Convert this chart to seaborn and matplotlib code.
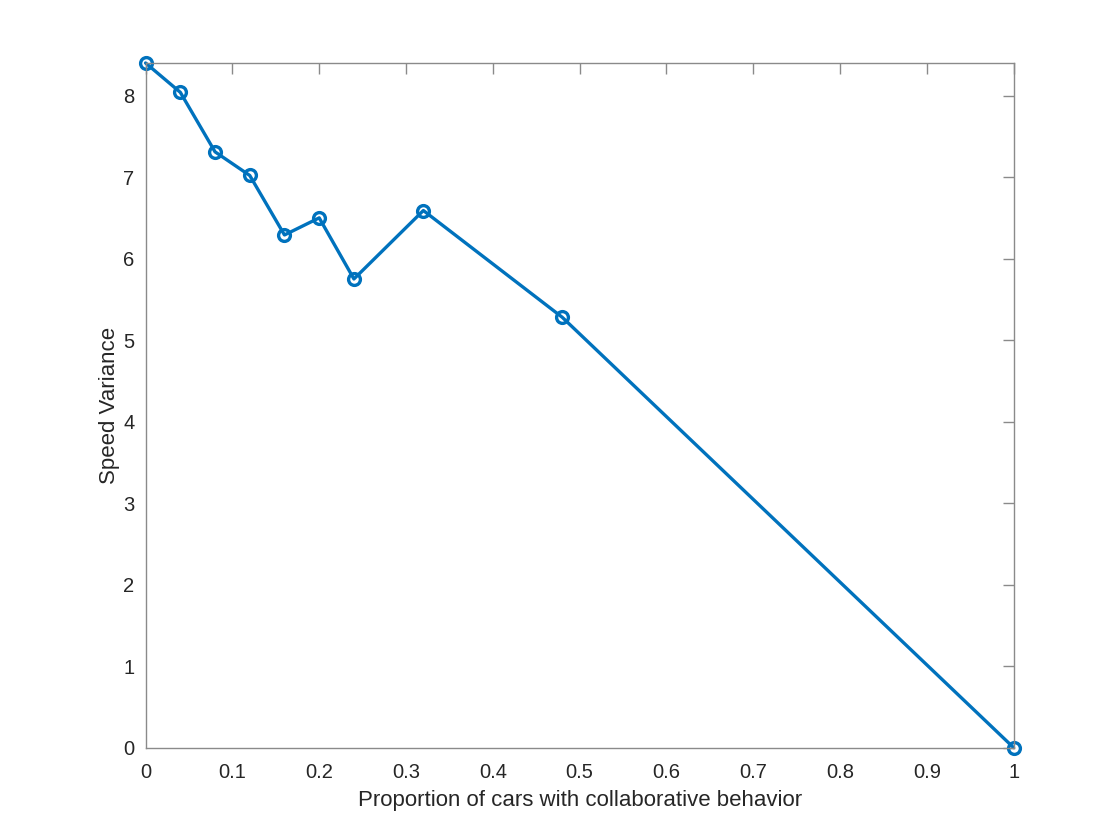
import matplotlib
matplotlib.use("Agg")
import matplotlib.pyplot as plt
import seaborn as sns
import pandas as pd

# proportion of collaborative cars vs speed variance
proportion = [0.0, 0.04, 0.08, 0.12, 0.16, 0.20, 0.24, 0.32, 0.48, 1.0]
speed_var = [8.40, 8.04, 7.31, 7.02, 6.29, 6.50, 5.75, 6.59, 5.28, 0.0]
x_ticks = [0, 0.1, 0.2, 0.3, 0.4, 0.5, 0.6, 0.7, 0.8, 0.9, 1]
x_tick_labels = ["0", "0.1", "0.2", "0.3", "0.4", "0.5", "0.6", "0.7", "0.8", "0.9", "1"]
y_ticks = [0, 1, 2, 3, 4, 5, 6, 7, 8]

df = pd.DataFrame({"proportion": proportion, "speed_var": speed_var})

sns.set_style("white")
plt.rcParams["font.family"] = ["Liberation Sans", "DejaVu Sans"]

fig = plt.figure(figsize=(11.2, 8.4), dpi=100)
ax = fig.add_axes([0.13, 0.11, 0.775, 0.815])

matlab_blue = "#0072BD"
sns.lineplot(data=df, x="proportion", y="speed_var", ax=ax, color=matlab_blue,
             linewidth=2.4, marker="o", markersize=8.5, markerfacecolor="none",
             markeredgecolor=matlab_blue, markeredgewidth=2.4, clip_on=False)

ax.set_xlim(0, 1)
ax.set_ylim(0, max(speed_var))
ax.set_xticks(x_ticks)
ax.set_xticklabels(x_tick_labels)
ax.set_yticks(y_ticks)

ax.set_xlabel("Proportion of cars with collaborative behavior", fontsize=16,
              color="#262626", labelpad=5.5)
ax.set_ylabel("Speed Variance", fontsize=16, color="#262626", labelpad=2.5)

for s in ax.spines.values():
    s.set_visible(True)
    s.set_color("#8a8a8a")
    s.set_linewidth(1.0)

ax.tick_params(direction="in", length=8, width=1.0, color="#8a8a8a",
               top=True, right=True, labelsize=14.5, labelcolor="#262626")
ax.tick_params(axis="x", pad=11)
ax.tick_params(axis="y", pad=8)

fig.savefig("out.png", dpi=100)
